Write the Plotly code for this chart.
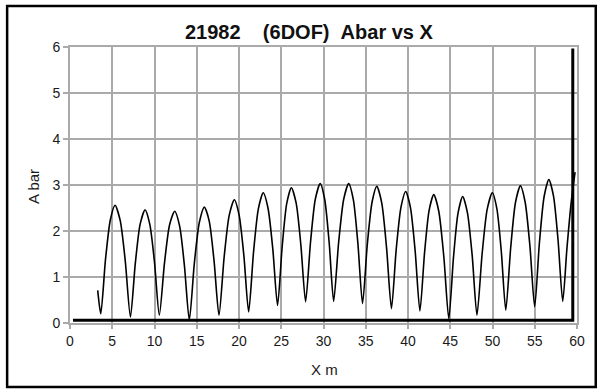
import plotly.graph_objects as go

# Abar vs X curve
x_m = [3.28, 3.64, 4.20, 4.77, 5.33, 5.94, 6.54, 7.15, 7.73, 8.30, 8.88, 9.44, 10.00, 10.57,
       11.18, 11.78, 12.39, 12.97, 13.54, 14.12, 14.71, 15.31, 15.90, 16.48, 17.05, 17.63,
       18.24, 18.84, 19.45, 20.01, 20.58, 21.14, 21.72, 22.29, 22.87, 23.43, 24.00, 24.56,
       25.11, 25.65, 26.20, 26.76, 27.32, 27.88, 28.46, 29.03, 29.61, 30.14, 30.67, 31.20,
       31.79, 32.39, 32.98, 33.53, 34.07, 34.62, 35.18, 35.75, 36.31, 36.89, 37.46, 38.04,
       38.60, 39.17, 39.73, 40.29, 40.85, 41.41, 41.96, 42.50, 43.05, 43.64, 44.24, 44.83,
       45.38, 45.92, 46.47, 47.03, 47.60, 48.16, 48.77, 49.37, 49.98, 50.51, 51.04, 51.57,
       52.15, 52.72, 53.30, 53.86, 54.43, 54.99, 55.55, 56.11, 56.67, 57.22, 57.76, 58.31,
       58.80, 59.30, 59.77]
abar = [0.71, 0.20, 1.38, 2.24, 2.56, 2.23, 1.35, 0.13, 1.30, 2.15, 2.46, 2.15, 1.32, 0.17,
        1.30, 2.13, 2.43, 2.11, 1.25, 0.06, 1.29, 2.19, 2.52, 2.21, 1.35, 0.17,
        1.43, 2.34, 2.68, 2.35, 1.46, 0.24, 1.54, 2.48, 2.83, 2.50, 1.61, 0.38,
        1.66, 2.60, 2.94, 2.61, 1.70, 0.46, 1.75, 2.69, 3.03, 2.69, 1.75, 0.47,
        1.75, 2.69, 3.03, 2.68, 1.73, 0.42, 1.70, 2.63, 2.97, 2.61, 1.64, 0.31,
        1.59, 2.52, 2.86, 2.51, 1.56, 0.26, 1.53, 2.45, 2.79, 2.43, 1.44, 0.09,
        1.42, 2.39, 2.75, 2.40, 1.46, 0.17, 1.50, 2.47, 2.83, 2.49, 1.56, 0.28,
        1.63, 2.62, 2.98, 2.63, 1.67, 0.35, 1.74, 2.75, 3.12, 2.76, 1.80, 0.47,
        1.60, 2.60, 3.28]

# boundary series (black L-shaped line)
frame_x = [0.35, 59.5, 59.5]
frame_y = [0.06, 0.06, 5.97]

x_ticks = [0, 5, 10, 15, 20, 25, 30, 35, 40, 45, 50, 55, 60]
y_ticks = [0, 1, 2, 3, 4, 5, 6]

FONT = "Liberation Sans"
GRID = "#aaaaaa"
TXT = "#1a1a1a"

fig = go.Figure()
fig.add_trace(go.Scatter(x=frame_x, y=frame_y, mode="lines",
                         line=dict(color="black", width=3), hoverinfo="skip"))
fig.add_trace(go.Scatter(x=x_m, y=abar, mode="lines",
                         line=dict(color="black", width=1.6, shape="spline", smoothing=0.7)))

axis_common = dict(showgrid=True, gridcolor=GRID, gridwidth=2, zeroline=False,
                   showline=True, linecolor=GRID, linewidth=2, mirror=True,
                   ticks="outside", tickcolor=GRID, tickwidth=2,
                   tickfont=dict(size=14, family=FONT, color=TXT))

fig.update_layout(
    width=603, height=392,
    margin=dict(l=70, r=26, t=47, b=69),
    paper_bgcolor="white", plot_bgcolor="white",
    showlegend=False,
    font=dict(family=FONT, color=TXT),
    xaxis=dict(range=[0, 60], tickvals=x_ticks, ticktext=[str(v) for v in x_ticks],
               ticklen=4, **axis_common),
    yaxis=dict(range=[0, 6], tickvals=y_ticks, ticktext=[str(v) for v in y_ticks],
               ticklen=5, **axis_common),
    shapes=[dict(type="rect", xref="paper", yref="paper",
                 x0=-0.124, x1=1.037, y0=-0.232, y1=1.149,
                 line=dict(color="black", width=2.5), layer="above")],
    annotations=[
        dict(text="<b>21982\u00a0\u00a0\u00a0\u00a0(6DOF)\u00a0\u00a0Abar\u00a0vs\u00a0X</b>", xref="paper", yref="paper",
             x=0.473, y=1.053, showarrow=False, xanchor="center", yanchor="middle",
             font=dict(size=20, family=FONT, color="#111111")),
        dict(text="X m", xref="paper", yref="paper", x=0.501, y=-0.167, showarrow=False,
             xanchor="center", yanchor="middle", font=dict(size=15, family=FONT, color=TXT)),
        dict(text="A bar", xref="paper", yref="paper", x=-0.071, y=0.493, showarrow=False,
             textangle=-90, xanchor="center", yanchor="middle",
             font=dict(size=15, family=FONT, color=TXT)),
    ],
)

fig.write_html("out.html")
